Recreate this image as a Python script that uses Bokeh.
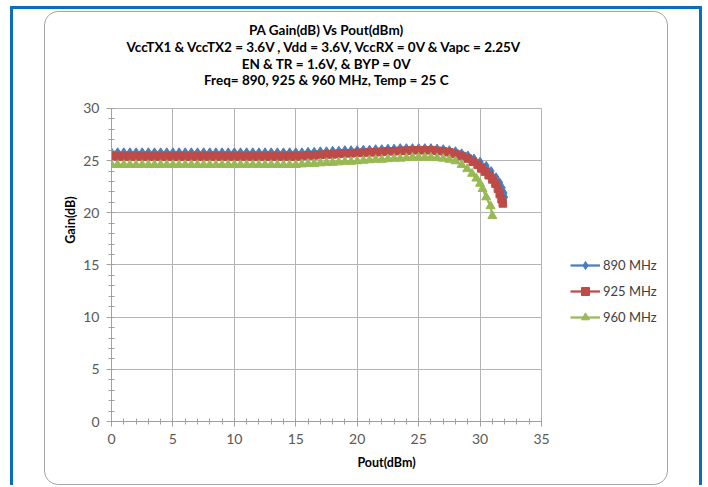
from bokeh.plotting import figure
from bokeh.layouts import column
from bokeh.models import (Range1d, SingleIntervalTicker, Label, Legend, LegendItem)
from bokeh.embed import file_html
from bokeh.resources import INLINE

# ---------------- data ----------------
series_names = ["890 MHz", "925 MHz", "960 MHz"]

pout_890 = [0.0, 0.5, 1.0, 1.5, 2.0, 2.5, 3.0, 3.5, 4.0, 4.5, 5.0, 5.5, 6.0, 6.5, 7.0, 7.5,
            8.0, 8.5, 9.0, 9.5, 10.0, 10.5, 11.0, 11.5, 12.0, 12.5, 13.0, 13.5, 14.0, 14.5,
            15.0, 15.5, 16.0, 16.5, 17.0, 17.5, 18.0, 18.5, 19.0, 19.5, 20.0, 20.5, 21.0,
            21.5, 22.0, 22.5, 23.0, 23.5, 24.0, 24.5, 25.0, 25.5, 26.0, 26.5, 27.0, 27.5,
            28.0, 28.5, 29.0, 29.5, 30.0, 30.5, 30.9, 31.3, 31.6, 31.8, 31.95, 32.0]
gain_890 = [25.8, 25.8, 25.8, 25.8, 25.8, 25.8, 25.8, 25.8, 25.8, 25.8, 25.8, 25.8, 25.8,
            25.8, 25.8, 25.8, 25.8, 25.8, 25.8, 25.8, 25.8, 25.8, 25.8, 25.8, 25.8, 25.8,
            25.8, 25.8, 25.8, 25.8, 25.8, 25.8, 25.85, 25.85, 25.9, 25.9, 25.95, 25.95,
            26.0, 26.0, 26.0, 26.05, 26.05, 26.1, 26.1, 26.15, 26.15, 26.2, 26.2, 26.2,
            26.2, 26.2, 26.2, 26.15, 26.1, 26.0, 25.9, 25.7, 25.5, 25.2, 24.9, 24.5, 24.0,
            23.4, 22.9, 22.4, 21.9, 21.5]

pout_925 = [0.0, 0.5, 1.0, 1.5, 2.0, 2.5, 3.0, 3.5, 4.0, 4.5, 5.0, 5.5, 6.0, 6.5, 7.0, 7.5,
            8.0, 8.5, 9.0, 9.5, 10.0, 10.5, 11.0, 11.5, 12.0, 12.5, 13.0, 13.5, 14.0, 14.5,
            15.0, 15.5, 16.0, 16.5, 17.0, 17.5, 18.0, 18.5, 19.0, 19.5, 20.0, 20.5, 21.0,
            21.5, 22.0, 22.5, 23.0, 23.5, 24.0, 24.5, 25.0, 25.5, 26.0, 26.5, 27.0, 27.5,
            28.0, 28.5, 29.0, 29.4, 29.8, 30.1, 30.4, 30.7, 31.0, 31.25, 31.45, 31.6,
            31.75, 31.85]
gain_925 = [25.4, 25.4, 25.4, 25.4, 25.4, 25.4, 25.4, 25.4, 25.4, 25.4, 25.4, 25.4, 25.4,
            25.4, 25.4, 25.4, 25.4, 25.4, 25.4, 25.4, 25.4, 25.4, 25.4, 25.4, 25.4, 25.4,
            25.4, 25.4, 25.4, 25.4, 25.4, 25.45, 25.5, 25.5, 25.55, 25.6, 25.6, 25.65,
            25.7, 25.7, 25.75, 25.75, 25.8, 25.8, 25.85, 25.9, 25.9, 25.95, 25.95, 26.0,
            26.0, 26.0, 26.0, 25.95, 25.9, 25.8, 25.65, 25.45, 25.2, 24.9, 24.6, 24.25,
            23.95, 23.6, 23.2, 22.8, 22.3, 21.8, 21.3, 20.9]

pout_960 = [0.0, 0.5, 1.0, 1.5, 2.0, 2.5, 3.0, 3.5, 4.0, 4.5, 5.0, 5.5, 6.0, 6.5, 7.0, 7.5,
            8.0, 8.5, 9.0, 9.5, 10.0, 10.5, 11.0, 11.5, 12.0, 12.5, 13.0, 13.5, 14.0, 14.5,
            15.0, 15.5, 16.0, 16.5, 17.0, 17.5, 18.0, 18.5, 19.0, 19.5, 20.0, 20.5, 21.0,
            21.5, 22.0, 22.5, 23.0, 23.5, 24.0, 24.5, 25.0, 25.5, 26.0, 26.5, 27.0, 27.5,
            28.0, 28.5, 28.95, 29.35, 29.7, 30.0, 30.2, 30.5, 30.85, 31.0]
gain_960 = [24.6, 24.6, 24.6, 24.6, 24.6, 24.6, 24.6, 24.6, 24.6, 24.6, 24.6, 24.6, 24.6,
            24.6, 24.6, 24.6, 24.6, 24.6, 24.6, 24.6, 24.6, 24.6, 24.6, 24.6, 24.6, 24.6,
            24.6, 24.6, 24.6, 24.6, 24.6, 24.65, 24.7, 24.7, 24.75, 24.8, 24.8, 24.85,
            24.9, 24.9, 24.95, 25.0, 25.05, 25.1, 25.1, 25.15, 25.2, 25.2, 25.25, 25.3,
            25.3, 25.3, 25.3, 25.25, 25.2, 25.1, 24.95, 24.6, 24.2, 23.75, 23.3, 22.8,
            22.3, 21.5, 20.65, 19.7]

x_axis_bounds = (0, 35)
y_axis_bounds = (0, 30)

title_lines = ["PA Gain(dB) Vs Pout(dBm)",
               "VccTX1 & VccTX2 = 3.6V , Vdd  = 3.6V, VccRX = 0V & Vapc = 2.25V",
               "EN & TR = 1.6V, & BYP = 0V",
               "Freq= 890, 925 & 960 MHz, Temp = 25 C"]
x_label = "Pout(dBm)"
y_label = "Gain(dB)"

# ---------------- styles ----------------
FONT = "Lato"
colors = ["#4A7EBB", "#BE4B48", "#98B954"]
markers = ["diamond", "square", "triangle"]
msizes = [9, 7.5, 9]

# the frame covers the whole chart area; axes and grid are bounded to the data box
p = figure(width=610, height=460, output_backend="svg", toolbar_location=None,
           x_range=Range1d(0, 44.767), y_range=Range1d(0, 38.626),
           min_border_left=60, min_border_right=0, min_border_top=0,
           min_border_bottom=57)
p.outline_line_color = None
p.background_fill_color = "white"
p.border_fill_color = "white"

xt = SingleIntervalTicker(interval=5, num_minor_ticks=5)
yt = SingleIntervalTicker(interval=5, num_minor_ticks=5)
p.xaxis.ticker = xt
p.yaxis.ticker = yt
p.xgrid.ticker = xt
p.ygrid.ticker = yt
p.xaxis.bounds = x_axis_bounds
p.yaxis.bounds = y_axis_bounds
p.xgrid.bounds = x_axis_bounds
p.xgrid.cross_bounds = y_axis_bounds
p.ygrid.bounds = y_axis_bounds
p.ygrid.cross_bounds = x_axis_bounds
p.grid.grid_line_color = "#b4b4b4"
p.grid.grid_line_width = 1

for ax in (p.xaxis[0], p.yaxis[0]):
    ax.axis_line_color = "#a0a0a0"
    ax.major_tick_line_color = "#a0a0a0"
    ax.minor_tick_line_color = "#a0a0a0"
    ax.major_tick_in = 0
    ax.major_tick_out = 5
    ax.minor_tick_in = 3
    ax.minor_tick_out = 3
    ax.major_label_text_font = FONT
    ax.major_label_text_font_size = "14px"
    ax.major_label_text_color = "#595959"
    ax.axis_label_text_font = FONT
    ax.axis_label_text_font_size = "12.5px"
    ax.axis_label_text_font_style = "bold"
    ax.axis_label_text_color = "#000000"
p.xaxis.axis_label = x_label
p.yaxis.axis_label = y_label
p.xaxis.major_label_standoff = 7
p.yaxis.major_label_standoff = 7
p.xaxis.axis_label_standoff = 8
p.yaxis.axis_label_standoff = 2

# title lines, centred over the data box
title_y = [37.48, 35.9, 34.3, 32.72]
for t, ty in zip(title_lines, title_y):
    p.add_layout(Label(x=17.5, y=ty, text=t, text_align="center", text_baseline="middle",
                       text_font=FONT, text_font_size="13.5px", text_font_style="bold",
                       text_color="#000000"))

xs = [pout_890, pout_925, pout_960]
ys = [gain_890, gain_925, gain_960]
items = []
for name, x, y, c, m, s in zip(series_names, xs, ys, colors, markers, msizes):
    lr = p.line(x, y, line_color=c, line_width=2.25)
    sr = p.scatter(x, y, marker=m, size=s, fill_color=c, line_color=c)
    items.append(LegendItem(label=name, renderers=[lr, sr]))

legend = Legend(items=items, location=(459, 94), padding=0, margin=0,
                glyph_width=30, glyph_height=20, label_height=20, spacing=6,
                label_standoff=3, border_line_color=None, background_fill_alpha=0,
                label_text_font=FONT, label_text_font_size="13px",
                label_text_color="#404040")
p.add_layout(legend, "center")

inner = column(p, styles={"border": "1px solid #a6a6a6", "border-radius": "14px",
                          "padding": "6px", "background-color": "white"})
outer = column(inner, styles={"margin-left": "10px", "margin-top": "6px",
                              "border-left": "3px solid #0A6EBD",
                              "border-right": "3px solid #0A6EBD",
                              "border-top": "3px solid #0A6EBD",
                              "padding-left": "31px", "padding-top": "2px",
                              "padding-right": "31px"})

open("out.html", "w").write(file_html(outer, INLINE))
